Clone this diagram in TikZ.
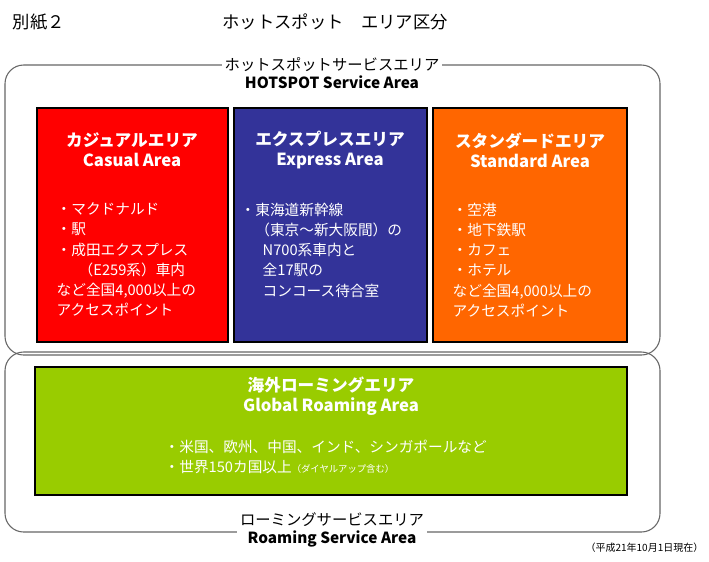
\documentclass[tikz,border=0pt]{standalone}
\usepackage{fontspec}
\setmainfont{Noto Sans CJK JP}
\definecolor{cred}{HTML}{FF0000}
\definecolor{cblue}{HTML}{333399}
\definecolor{corange}{HTML}{FF6600}
\definecolor{cgreen}{HTML}{99CC00}
\begin{document}
\begin{tikzpicture}[x=0.75pt,y=-0.75pt,
  frame/.style={draw=black!60,line width=0.8pt,rounded corners=14pt},
  head/.style={font=\bfseries\fontsize{12.5}{15}\selectfont,text=white,align=center},
  body/.style={font=\fontsize{11}{15.2}\selectfont,text=white,align=left,anchor=north west},
  lab/.style={fill=white,align=center,font=\fontsize{11.5}{14}\selectfont,inner sep=2pt}]
\useasboundingbox (0,0) rectangle (709,561);
\node[anchor=west,font=\fontsize{13}{15}\selectfont] (bessi) at (8,22) {別紙２};
\node[font=\fontsize{13}{15}\selectfont] (title) at (335,22) {ホットスポット　エリア区分};
\draw[frame] (5,65) rectangle (660,355);
\draw[frame] (5,352) rectangle (660,532);
\node[lab] (hs) at (332,73) {ホットスポットサービスエリア\\\textbf{HOTSPOT Service Area}};
\node[lab] (rs) at (332,530) {ローミングサービスエリア\\\textbf{Roaming Service Area}};
\node[anchor=east,font=\fontsize{7.5}{9}\selectfont] (date) at (708,548) {（平成21年10月1日現在）};
\filldraw[fill=cred,draw=black,line width=0.8pt] (37,108) rectangle (228,342);
\filldraw[fill=cblue,draw=black,line width=0.8pt] (234,108) rectangle (427,342);
\filldraw[fill=corange,draw=black,line width=0.8pt] (433,108) rectangle (627,342);
\filldraw[fill=cgreen,draw=black,line width=0.8pt] (35,367) rectangle (627,495);
\node[head] (h1) at (132,150) {カジュアルエリア\\Casual Area};
\node[head] (h2) at (330,150) {エクスプレスエリア\\Express Area};
\node[head] (h3) at (530,150) {スタンダードエリア\\Standard Area};
\node[head] (h4) at (331,396) {海外ローミングエリア\\Global Roaming Area};
\node[body] (b1) at (52,198) {・マクドナルド\\・駅\\・成田エクスプレス\\\hspace{1.5em}（E259系）車内\\など全国4,000以上の\\アクセスポイント};
\node[body] (b2) at (236,198) {・東海道新幹線\\\hspace{1em}（東京～新大阪間）の\\\hspace{1.5em}N700系車内と\\\hspace{1.5em}全17駅の\\\hspace{1.5em}コンコース待合室};
\node[body] (b3) at (448,198) {・空港\\・地下鉄駅\\・カフェ\\・ホテル\\など全国4,000以上の\\アクセスポイント};
\node[body] (b4) at (160,435) {・米国、欧州、中国、インド、シンガポールなど\\・世界150カ国以上{\fontsize{7}{9}\selectfont（ダイヤルアップ含む）}};
\end{tikzpicture}
\end{document}
